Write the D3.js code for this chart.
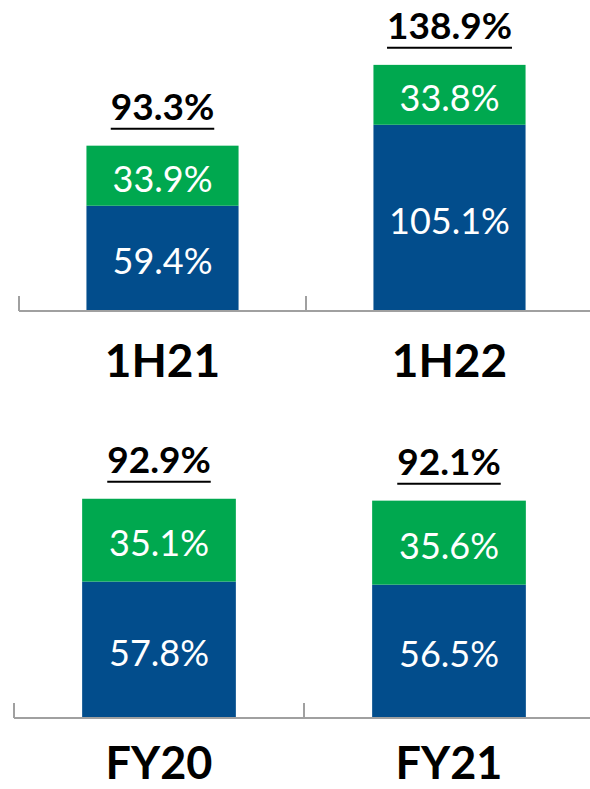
<!DOCTYPE html>
<html>
<head>
<meta charset="utf-8">
<script src="https://cdn.jsdelivr.net/npm/d3@7"></script>
<style>
  html, body { margin: 0; padding: 0; background: #ffffff; }
  svg { display: block; }
  text { font-family: Lato, "Open Sans", sans-serif; }
</style>
</head>
<body>
<svg id="chart" width="590" height="789"></svg>
<script>
// Half-year comparison (upper panel)
const halfYearPeriods = ["1H21", "1H22"];
const halfYearBase    = [59.4, 105.1];   // blue segment
const halfYearTop     = [33.9, 33.8];    // green segment
const halfYearTotals  = [93.3, 138.9];

// Full-year comparison (lower panel)
const fullYearPeriods = ["FY20", "FY21"];
const fullYearBase    = [57.8, 56.5];
const fullYearTop     = [35.1, 35.6];
const fullYearTotals  = [92.9, 92.1];

const BLUE = "#024d8c";
const GREEN = "#00a84f";
const AXIS = "#a0a0a0";
const W = 590;

const svg = d3.select("#chart");

function drawPanel(cfg) {
  const { periods, base, top, totals, xRange, baseline, domainMax, rangeTop, labelBaseline, labelSize } = cfg;
  const rows = periods.map((p, i) => ({ period: p, base: base[i], top: top[i], total: totals[i] }));

  const x = d3.scaleBand().domain(periods).range(xRange).paddingInner(0).paddingOuter(0);
  const y = d3.scaleLinear().domain([0, domainMax]).range([baseline, rangeTop]);
  const barW = x.bandwidth() * 0.53;

  const stack = d3.stack().keys(["base", "top"]);
  const series = stack(rows);
  const colors = { base: BLUE, top: GREEN };

  const g = svg.append("g");

  series.forEach(s => {
    const grp = g.append("g");
    grp.selectAll("rect")
      .data(s)
      .join("rect")
      .attr("x", d => x(d.data.period) + (x.bandwidth() - barW) / 2)
      .attr("width", barW)
      .attr("y", d => y(d[1]))
      .attr("height", d => y(d[0]) - y(d[1]))
      .attr("fill", colors[s.key]);

    grp.selectAll("text")
      .data(s)
      .join("text")
      .attr("x", d => x(d.data.period) + x.bandwidth() / 2)
      .attr("y", d => (y(d[0]) + y(d[1])) / 2 + 2)
      .attr("text-anchor", "middle")
      .attr("dominant-baseline", "central")
      .attr("fill", "#ffffff")
      .attr("font-size", 36)
      .text(d => d3.format(".1f")(d.data[s.key]) + "%");
  });

  // axis baseline with category ticks
  g.append("line")
    .attr("x1", xRange[0]).attr("x2", W)
    .attr("y1", baseline).attr("y2", baseline)
    .attr("stroke", AXIS).attr("stroke-width", 2);
  g.selectAll("line.tick")
    .data(periods)
    .join("line")
    .attr("class", "tick")
    .attr("x1", d => x(d)).attr("x2", d => x(d))
    .attr("y1", baseline).attr("y2", baseline - 15)
    .attr("stroke", AXIS).attr("stroke-width", 2);

  // totals above each stack, underlined
  rows.forEach(r => {
    const cx = x(r.period) + x.bandwidth() / 2;
    const by = y(r.total) - 26;
    const t = g.append("text")
      .attr("x", cx).attr("y", by)
      .attr("text-anchor", "middle")
      .attr("font-weight", 700)
      .attr("font-size", 37)
      .attr("fill", "#000000")
      .text(d3.format(".1f")(r.total) + "%");
    const len = t.node().getComputedTextLength();
    g.append("line")
      .attr("x1", cx - len / 2).attr("x2", cx + len / 2)
      .attr("y1", by + 9).attr("y2", by + 9)
      .attr("stroke", "#000000").attr("stroke-width", 2);
  });

  // category labels
  g.selectAll("text.cat")
    .data(periods)
    .join("text")
    .attr("class", "cat")
    .attr("x", d => x(d) + x.bandwidth() / 2)
    .attr("y", labelBaseline)
    .attr("text-anchor", "middle")
    .attr("font-weight", 700)
    .attr("font-size", labelSize)
    .attr("fill", "#000000")
    .text(d => d);
}

drawPanel({
  periods: halfYearPeriods, base: halfYearBase, top: halfYearTop, totals: halfYearTotals,
  xRange: [19, 593], baseline: 311, domainMax: 140, rangeTop: 311 - 140 * 1.772,
  labelBaseline: 377, labelSize: 46
});

drawPanel({
  periods: fullYearPeriods, base: fullYearBase, top: fullYearTop, totals: fullYearTotals,
  xRange: [14, 594], baseline: 718, domainMax: 100, rangeTop: 718 - 100 * 2.36,
  labelBaseline: 779, labelSize: 45
});
</script>
</body>
</html>
